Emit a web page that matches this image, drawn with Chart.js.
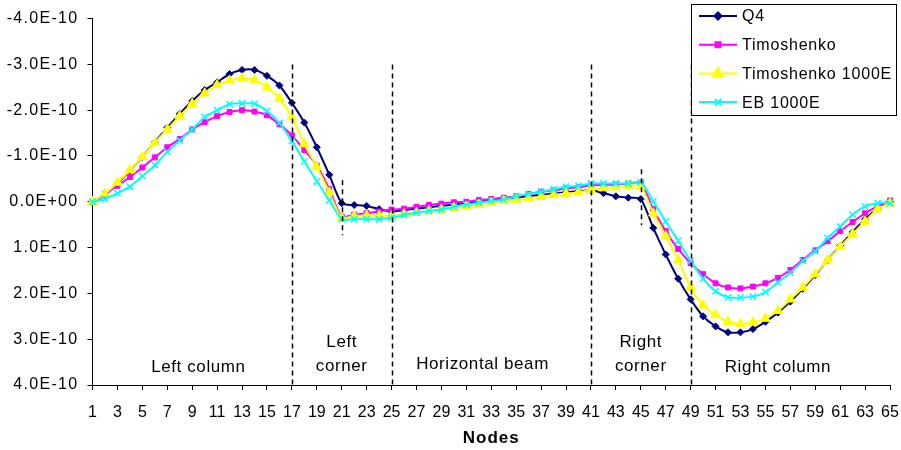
<!DOCTYPE html>
<html>
<head>
<meta charset="utf-8">
<script src="https://cdn.jsdelivr.net/npm/chart.js@4.4.1/dist/chart.umd.min.js"></script>
<style>
  html, body { margin: 0; padding: 0; background: #fff; }
</style>
</head>
<body>
<canvas id="chart" width="901" height="450"></canvas>
<script>
// node numbers along the frame
const nodes = [
  "1", "2", "3", "4", "5", "6", "7", "8", "9", "10", "11", "12", "13",
  "14", "15", "16", "17", "18", "19", "20", "21", "22", "23", "24", "25", "26",
  "27", "28", "29", "30", "31", "32", "33", "34", "35", "36", "37", "38", "39",
  "40", "41", "42", "43", "44", "45", "46", "47", "48", "49", "50", "51", "52",
  "53", "54", "55", "56", "57", "58", "59", "60", "61", "62", "63", "64", "65",
];

// displacements, in units of 1E-10
const q4 = [
  0, -0.15, -0.40, -0.68, -0.98, -1.30, -1.62, -1.92, -2.20, -2.44,
  -2.61, -2.79, -2.88, -2.88, -2.75, -2.54, -2.16, -1.73, -1.19, -0.59,
  0.03, 0.07, 0.09, 0.16, 0.21, 0.18, 0.15, 0.12, 0.09, 0.06,
  0.03, 0.00, -0.03, -0.06, -0.09, -0.12, -0.15, -0.18, -0.21, -0.23,
  -0.25, -0.19, -0.12, -0.09, -0.06, 0.57, 1.15, 1.68, 2.13, 2.50,
  2.72, 2.85, 2.85, 2.78, 2.62, 2.42, 2.18, 1.90, 1.60, 1.27,
  0.96, 0.66, 0.38, 0.15, 0,
];
const timoshenko = [
  0, -0.17, -0.35, -0.54, -0.75, -0.97, -1.19, -1.37, -1.58, -1.74,
  -1.87, -1.96, -2.00, -1.97, -1.89, -1.69, -1.45, -1.13, -0.79, -0.28,
  0.32, 0.28, 0.25, 0.21, 0.17, 0.15, 0.11, 0.07, 0.04, 0.01,
  0.00, -0.04, -0.06, -0.09, -0.12, -0.17, -0.22, -0.25, -0.29, -0.32,
  -0.36, -0.37, -0.38, -0.40, -0.41, 0.16, 0.64, 1.03, 1.34, 1.58,
  1.78, 1.87, 1.89, 1.85, 1.78, 1.66, 1.49, 1.27, 1.06, 0.86,
  0.64, 0.44, 0.25, 0.10, -0.03,
];
const timoshenko1000E = [
  0, -0.17, -0.42, -0.69, -0.98, -1.29, -1.58, -1.87, -2.14, -2.37,
  -2.55, -2.65, -2.70, -2.66, -2.50, -2.25, -1.85, -1.26, -0.76, -0.21,
  0.35, 0.31, 0.30, 0.30, 0.31, 0.27, 0.24, 0.20, 0.17, 0.13,
  0.10, 0.06, 0.02, -0.02, -0.05, -0.08, -0.11, -0.15, -0.18, -0.21,
  -0.26, -0.30, -0.32, -0.35, -0.33, 0.25, 0.75, 1.27, 1.87, 2.26,
  2.47, 2.62, 2.67, 2.63, 2.55, 2.38, 2.13, 1.87, 1.58, 1.27,
  0.98, 0.70, 0.43, 0.16, 0.03,
];
const eb1000E = [
  0, -0.06, -0.19, -0.33, -0.56, -0.80, -1.09, -1.34, -1.58, -1.85,
  -2.00, -2.13, -2.15, -2.14, -1.98, -1.72, -1.33, -0.88, -0.45, -0.03,
  0.38, 0.38, 0.38, 0.38, 0.35, 0.29, 0.24, 0.20, 0.17, 0.11,
  0.06, 0.02, -0.02, -0.05, -0.12, -0.17, -0.22, -0.27, -0.33, -0.35,
  -0.40, -0.40, -0.40, -0.40, -0.43, -0.01, 0.43, 0.85, 1.29, 1.68,
  1.95, 2.09, 2.09, 2.07, 1.97, 1.76, 1.55, 1.29, 1.08, 0.79,
  0.54, 0.28, 0.10, 0.03, 0.03,
];

const yTickLabels = {
  "-4": "-4.0E-10", "-3": "-3.0E-10", "-2": "-2.0E-10", "-1": "-1.0E-10",
  "0": "0.0E+00", "1": "1.0E-10", "2": "2.0E-10", "3": "3.0E-10", "4": "4.0E-10",
};

// dashed separators: node, from / to in axis units
const dividers = [
  { node: 17, from: -3.0, to: 4 },
  { node: 21, from: -0.47, to: 0.73 },
  { node: 25, from: -3.0, to: 4 },
  { node: 41, from: -3.0, to: 4 },
  { node: 45, from: -0.71, to: 0.51 },
  { node: 49, from: -3.0, to: 4 },
];

// region captions: node position, axis value, lines
const regions = [
  { node: 9.5, at: 3.62, lines: ["Left column"] },
  { node: 21, at: 3.6, lines: ["Left", "corner"] },
  { node: 32.3, at: 3.55, lines: ["Horizontal beam"] },
  { node: 45, at: 3.6, lines: ["Right", "corner"] },
  { node: 56, at: 3.62, lines: ["Right column"] },
];

const FONT = "'Liberation Sans', Arial, sans-serif";

const seriesStyles = [
  { label: "Q4", data: q4, color: "#000080", pointStyle: "rectRot", radius: 3.5, order: 4 },
  { label: "Timoshenko", data: timoshenko, color: "#FF00FF", pointStyle: "rect", radius: 3.5, order: 3 },
  { label: "Timoshenko 1000E", data: timoshenko1000E, color: "#FFFF00", pointStyle: "triangle", radius: 5.5, order: 2 },
  { label: "EB 1000E", data: eb1000E, color: "#00FFFF", pointStyle: "crossRot", radius: 4.5, order: 1 },
];

// the reference text is a bit wider than Liberation Sans, stretch it with letter spacing
function spaced(fn, spacing) {
  return function (...args) {
    const ctx = this.ctx;
    ctx.save();
    ctx.letterSpacing = spacing;
    fn.apply(this, args);
    ctx.restore();
  };
}

const overlay = {
  id: "overlay",
  afterLayout(chart) {
    const y = chart.scales.y, x = chart.scales.x;
    if (!y._spaced) {
      y.drawLabels = spaced(y.drawLabels, "1.3px");
      y._spaced = true;
    }
    if (!x._spaced) {
      x.drawTitle = spaced(x.drawTitle, "1px");
      x._spaced = true;
    }
  },
  afterDatasetsDraw(chart) {
    const { ctx, scales } = chart;
    const x = scales.x, y = scales.y;
    ctx.save();

    // separators
    ctx.strokeStyle = "#000";
    ctx.lineWidth = 1.5;
    ctx.setLineDash([5, 4]);
    dividers.forEach((d) => {
      const px = Math.round(x.getPixelForValue(d.node - 1)) + 0.5;
      ctx.beginPath();
      ctx.moveTo(px, y.getPixelForValue(d.from));
      ctx.lineTo(px, y.getPixelForValue(d.to));
      ctx.stroke();
    });
    ctx.setLineDash([]);

    // region captions
    ctx.fillStyle = "#000";
    ctx.font = "17px " + FONT;
    ctx.letterSpacing = "0.6px";
    ctx.textAlign = "center";
    ctx.textBaseline = "middle";
    regions.forEach((r) => {
      const px = x.left + (r.node - 1) * (x.right - x.left) / (nodes.length - 1);
      const py = y.getPixelForValue(r.at);
      r.lines.forEach((t, i) => {
        const off = (i - (r.lines.length - 1)) * 24;
        ctx.fillText(t, px, py + off);
      });
    });

    // legend box
    const bx = 691.5, by = 4.5, bw = 205, bh = 111;
    ctx.fillStyle = "#fff";
    ctx.fillRect(bx, by, bw, bh);
    ctx.strokeStyle = "#000";
    ctx.lineWidth = 1;
    ctx.strokeRect(bx, by, bw, bh);
    ctx.textAlign = "left";
    ctx.font = "16px " + FONT;
    ctx.letterSpacing = "0.8px";
    seriesStyles.forEach((s, i) => {
      const ly = 16 + i * 28.7;
      ctx.strokeStyle = s.color;
      ctx.lineWidth = 2;
      ctx.beginPath();
      ctx.moveTo(699, ly);
      ctx.lineTo(737, ly);
      ctx.stroke();
      ctx.fillStyle = s.color;
      Chart.helpers.drawPoint(ctx, {
        pointStyle: s.pointStyle,
        radius: s.radius,
        borderWidth: s.pointStyle === "crossRot" ? 1.5 : 1,
        rotation: 0,
      }, 718, ly);
      ctx.fillStyle = "#000";
      ctx.fillText(s.label, 742, ly + 1);
    });
    ctx.restore();
  },
};

new Chart(document.getElementById("chart"), {
  type: "line",
  data: {
    labels: nodes,
    datasets: seriesStyles.map((s) => ({
      label: s.label,
      data: s.data,
      borderColor: s.color,
      backgroundColor: s.color,
      pointBorderColor: s.color,
      pointBackgroundColor: s.color,
      pointStyle: s.pointStyle,
      pointRadius: s.radius,
      pointBorderWidth: s.pointStyle === "crossRot" ? 1.5 : 1,
      borderWidth: 2,
      tension: 0.25,
      fill: false,
      order: s.order,
    })),
  },
  options: {
    responsive: false,
    animation: false,
    devicePixelRatio: 1,
    layout: { padding: { left: 0, right: 11, top: 18, bottom: 0 } },
    plugins: {
      legend: { display: false },
      tooltip: { enabled: false },
    },
    scales: {
      x: {
        type: "category",
        offset: false,
        afterFit: (scale) => {
          scale.height = 65;
          scale.paddingLeft = 0;
          scale.paddingRight = 0;
        },
        grid: {
          drawOnChartArea: false,
          tickLength: 5,
          color: (c) => (c.index % 2 === 0 ? "#000" : "rgba(0,0,0,0)"),
        },
        border: { color: "#000", width: 1 },
        ticks: {
          autoSkip: false,
          maxRotation: 0,
          padding: 13,
          color: "#000",
          font: { family: FONT, size: 16 },
          callback: function (value, index) {
            return index % 2 === 0 ? nodes[index] : "";
          },
        },
        title: {
          display: true,
          text: "Nodes",
          color: "#000",
          font: { family: FONT, size: 17, weight: "bold" },
          padding: { top: 0, bottom: 1 },
        },
      },
      y: {
        reverse: true,
        min: -4,
        max: 4,
        afterFit: (scale) => { scale.width = 92.5; },
        grid: { drawOnChartArea: false, tickLength: 5, color: "#000" },
        border: { color: "#000", width: 1 },
        ticks: {
          stepSize: 1,
          padding: 9,
          color: "#000",
          font: { family: FONT, size: 16 },
          callback: (v) => yTickLabels[String(Math.round(v))],
        },
      },
    },
  },
  plugins: [overlay],
});
</script>
</body>
</html>
